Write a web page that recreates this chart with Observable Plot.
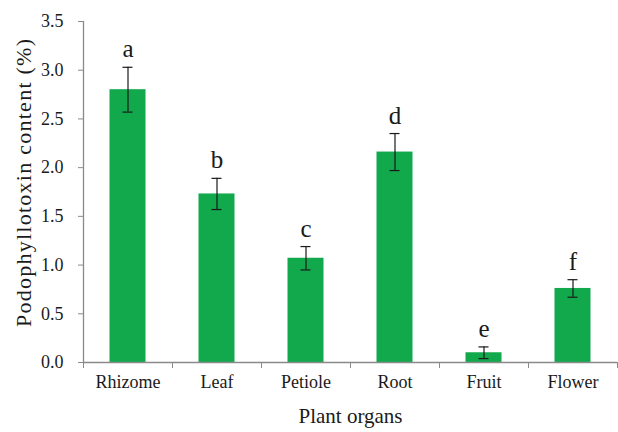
<!DOCTYPE html>
<html>
<head>
<meta charset="utf-8">
<script src="https://cdn.jsdelivr.net/npm/d3@7"></script>
<script src="https://cdn.jsdelivr.net/npm/@observablehq/plot@0.6"></script>
<style>
  html, body { margin: 0; padding: 0; background: #fff; }
  #chart { width: 618px; height: 432px; font-family: "Liberation Serif", serif; }
</style>
</head>
<body>
<div id="chart"></div>
<script>
const organs = ["Rhizome", "Leaf", "Petiole", "Root", "Fruit", "Flower"];
const content = [2.80, 1.73, 1.07, 2.16, 0.10, 0.76];
const errors = [0.23, 0.16, 0.12, 0.19, 0.06, 0.09];
const letters = ["a", "b", "c", "d", "e", "f"];
const yTicks = [0, 0.5, 1.0, 1.5, 2.0, 2.5, 3.0, 3.5];
const yTitle = "Podophyllotoxin content (%)";
const xTitle = "Plant organs";

const data = organs.map((organ, i) => ({
  organ, i, value: content[i], err: errors[i], letter: letters[i]
}));
const center = d => d.i + 0.5;
const top_ = d => d.value + d.err;
const bottom_ = d => d.value - d.err;
const boundaries = d3.range(organs.length + 1);
const centers = organs.map((_, i) => i + 0.5);

const axisGray = "#8a8a8a";
const green = "#12a84c";
const ink = "#1a1a1a";
const serif = "Liberation Serif, serif";

const chart = Plot.plot({
  width: 618,
  height: 432,
  marginLeft: 83,
  marginRight: 1,
  marginTop: 21,
  marginBottom: 70,
  style: { color: ink, background: "#fff", fontFamily: serif },
  x: { type: "linear", domain: [0, organs.length], axis: null },
  y: { domain: [0, 3.5], axis: null },
  marks: [
    Plot.rectY(data, { x1: d => d.i, x2: d => d.i + 1, y: "value", fill: green, insetLeft: 26.5, insetRight: 26.5 }),
    Plot.ruleX(data, { x: center, y1: bottom_, y2: top_, stroke: ink, strokeWidth: 1.2 }),
    Plot.ruleY(data, { x1: center, x2: center, y: top_, stroke: ink, strokeWidth: 1.2, insetLeft: -5, insetRight: -5 }),
    Plot.ruleY(data, { x1: center, x2: center, y: bottom_, stroke: ink, strokeWidth: 1.2, insetLeft: -5, insetRight: -5 }),
    Plot.text(data, { x: center, y: top_, text: "letter", dy: -18, fontSize: 25, fill: ink, fontFamily: serif }),
    Plot.ruleY([0], { stroke: axisGray, strokeWidth: 1.3 }),
    Plot.ruleX([0], { stroke: axisGray, strokeWidth: 1.3 }),
    Plot.axisY({ ticks: yTicks, tickFormat: d3.format(".1f"), tickSize: 5, tickPadding: 15, fontSize: 18, fontFamily: serif, stroke: axisGray, fill: ink, label: null }),
    Plot.axisX({ ticks: boundaries, tickSize: 6, tickFormat: () => "", stroke: axisGray, label: null }),
    Plot.axisX({ ticks: centers, tickSize: 0, tickPadding: 13, tickFormat: t => organs[Math.floor(t)], fontSize: 18, fontFamily: serif, fill: ink, label: null }),
    Plot.text([xTitle], { frameAnchor: "bottom", dy: 60, fontSize: 21, fontFamily: serif, fill: ink }),
    Plot.text([yTitle], { frameAnchor: "left", textAnchor: "middle", dx: -60, dy: -9, rotate: -90, fontSize: 22, fontFamily: serif, fill: ink })
  ]
});

const svg = d3.select(chart);
svg.style("font-family", serif);
svg.selectAll("g").style("font-family", serif);
svg.selectAll("text").style("font-family", serif);
svg.selectAll("text").filter(function () { return this.textContent === yTitle; })
  .attr("textLength", 288).attr("lengthAdjust", "spacing");

document.getElementById("chart").appendChild(chart);
</script>
</body>
</html>
